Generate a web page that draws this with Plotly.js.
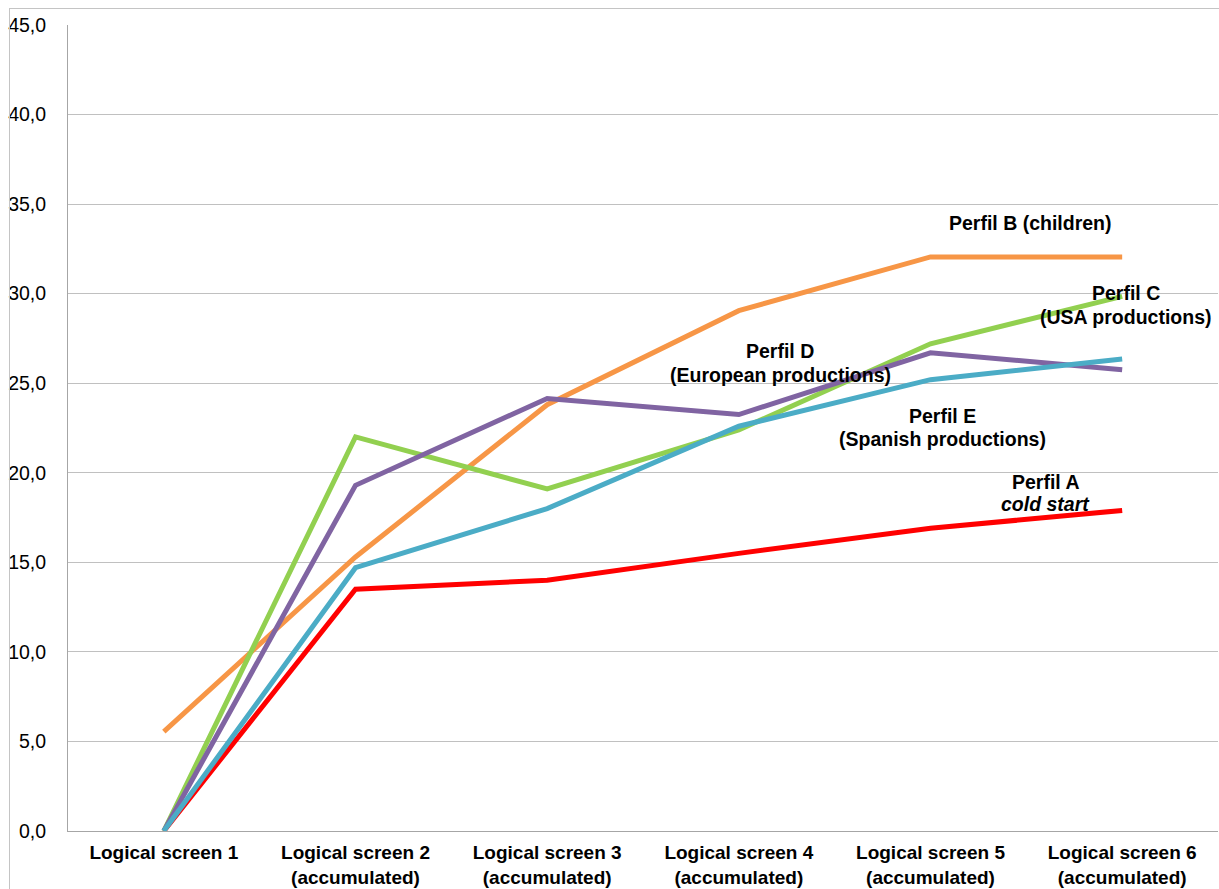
<!DOCTYPE html>
<html>
<head>
<meta charset="utf-8">
<script src="https://cdn.plot.ly/plotly-3.0.1.min.js"></script>
<style>
  html, body { margin: 0; padding: 0; background: #ffffff; overflow: hidden; }
  #chart { position: absolute; left: 0; top: 0; width: 1219px; height: 889px; }
  #frame { position: absolute; left: 9px; top: 8px; width: 2000px; height: 2000px;
           border: 1px solid #c4c4c4; pointer-events: none; }
</style>
</head>
<body>
<div id="chart"></div>
<div id="frame"></div>
<script>
// Categories (logical screens) and tick labels
const categories = ["LS1", "LS2", "LS3", "LS4", "LS5", "LS6"];
const tickLabels = [
  "Logical screen 1",
  "Logical screen 2<br>(accumulated)",
  "Logical screen 3<br>(accumulated)",
  "Logical screen 4<br>(accumulated)",
  "Logical screen 5<br>(accumulated)",
  "Logical screen 6<br>(accumulated)"
];

// Values per profile
const perfilA = [0.0, 13.5, 14.0, 15.5, 16.9, 17.9];
const perfilB = [5.55, 15.3, 23.8, 29.05, 32.05, 32.05];
const perfilC = [0.0, 22.0, 19.1, 22.4, 27.2, 29.85];
const perfilD = [0.0, 19.3, 24.15, 23.25, 26.7, 25.75];
const perfilE = [0.0, 14.7, 18.0, 22.6, 25.2, 26.35];

function series(y, color) {
  return {
    x: categories, y: y, type: "scatter", mode: "lines",
    line: { color: color, width: 5 },
    hoverinfo: "skip", showlegend: false
  };
}

const traces = [
  series(perfilA, "#ff0000"),
  series(perfilB, "#f79646"),
  series(perfilC, "#92d050"),
  series(perfilD, "#8064a2"),
  series(perfilE, "#4bacc6")
];

const FAMILY = "Liberation Sans, Arial, sans-serif";
const labelFont = { family: FAMILY, size: 19.5, color: "#000000", weight: "bold" };

function note(x, y, text, italic) {
  return {
    x: x, y: y, xref: "x", yref: "y", text: text, showarrow: false,
    xanchor: "center", yanchor: "middle",
    font: Object.assign({}, labelFont, italic ? { style: "italic" } : {})
  };
}

const annotations = [
  note(4.52, 33.94, "Perfil B (children)"),
  note(5.02, 30.04, "Perfil C"),
  note(5.02, 28.7, "(USA productions)"),
  note(3.215, 26.8, "Perfil D"),
  note(3.215, 25.46, "(European productions)"),
  note(4.064, 23.18, "Perfil E"),
  note(4.064, 21.9, "(Spanish productions)"),
  note(4.6, 19.5, "Perfil A"),
  note(4.6, 18.27, "cold start", true)
];

const layout = {
  width: 1219, height: 889,
  margin: { l: 68, r: 1, t: 25, b: 58 },
  paper_bgcolor: "rgba(0,0,0,0)",
  plot_bgcolor: "#ffffff",
  separators: ",.",
  font: { family: FAMILY, size: 19.5, color: "#000000" },
  xaxis: {
    type: "category",
    tickvals: categories,
    ticktext: tickLabels,
    tickfont: { family: FAMILY, size: 19, color: "#000000", weight: "bold" },
    showgrid: false, zeroline: false,
    showline: true, linecolor: "#a6a6a6", linewidth: 1,
    ticks: "", ticklabelstandoff: 4,
    range: [-0.5, 5.5], fixedrange: true
  },
  yaxis: {
    range: [0, 45], dtick: 5, tick0: 0, tickformat: ".1f",
    showgrid: true, gridcolor: "#c0c0c0", gridwidth: 1,
    zeroline: false,
    showline: true, linecolor: "#a6a6a6", linewidth: 1,
    ticks: "", ticklabelstandoff: 17,
    tickfont: { family: FAMILY, size: 19.5, color: "#000000" },
    fixedrange: true
  },
  annotations: annotations
};

Plotly.newPlot("chart", traces, layout, { displayModeBar: false, staticPlot: true });
</script>
</body>
</html>
